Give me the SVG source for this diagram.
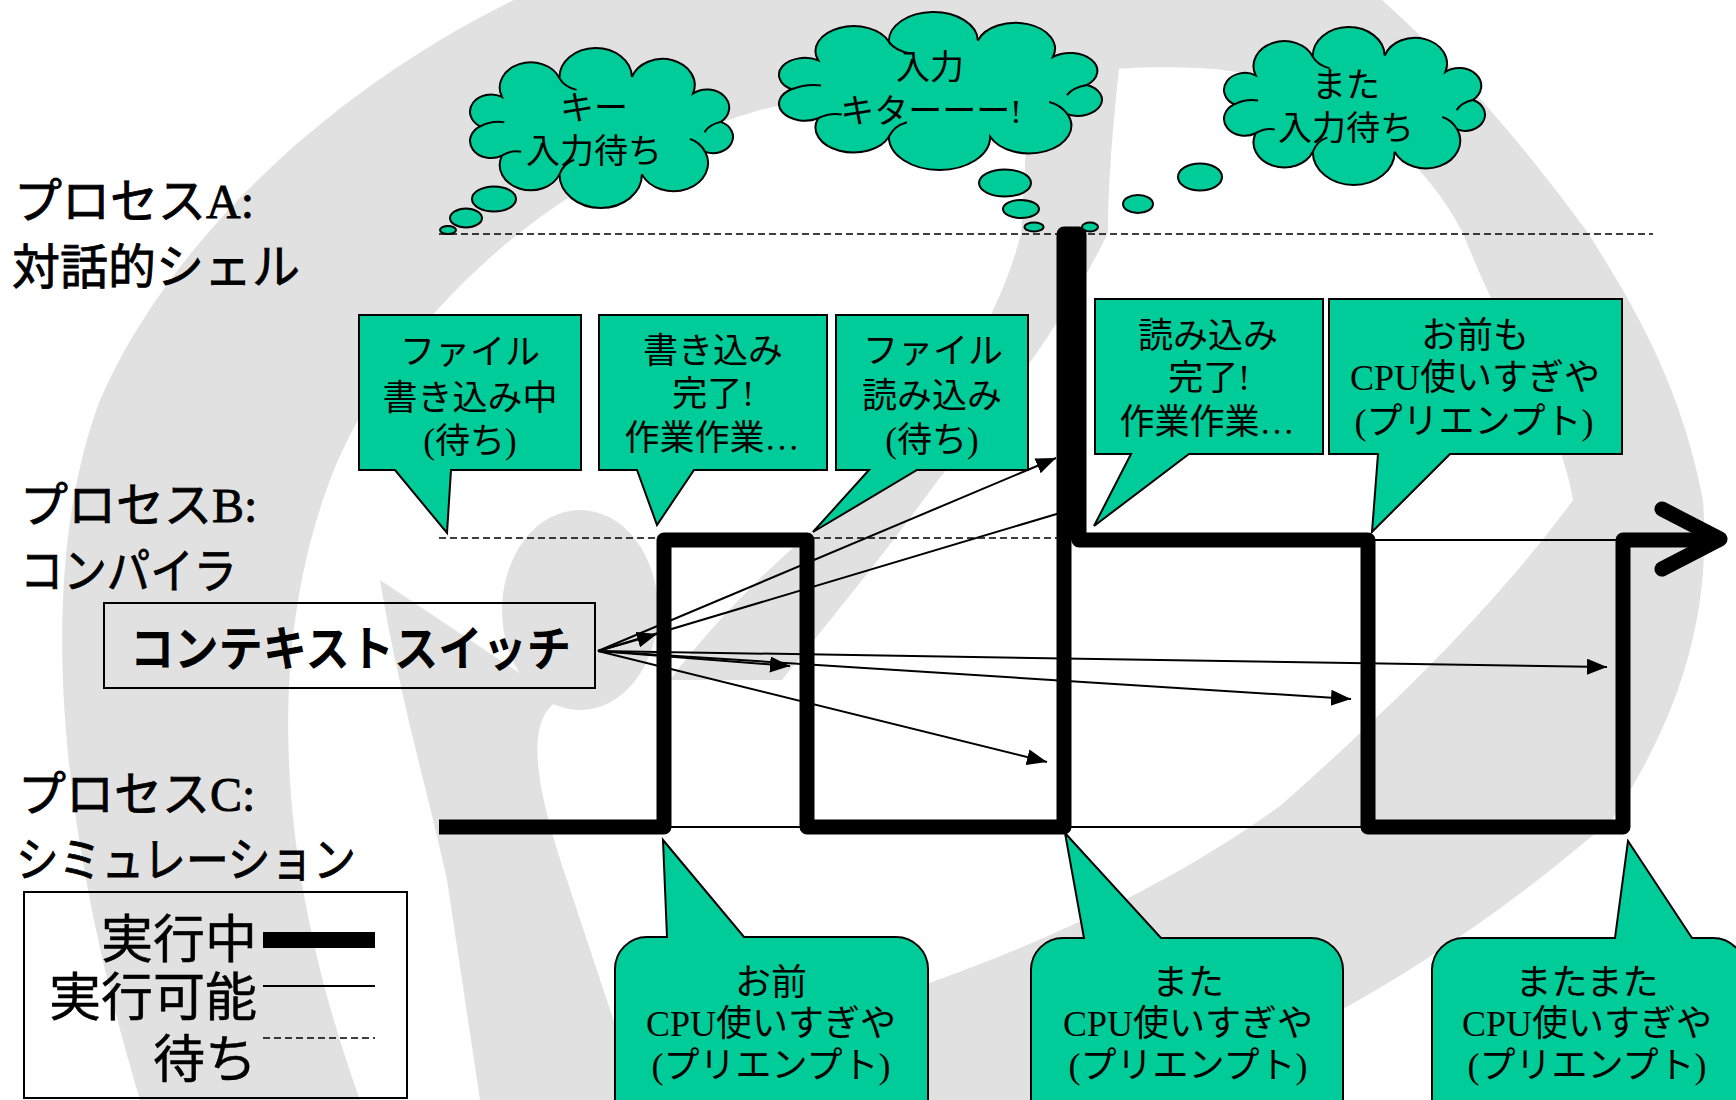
<svg xmlns="http://www.w3.org/2000/svg" width="1736" height="1100" viewBox="0 0 1736 1100">
  <style>
    .jp { font-family: "Liberation Serif", "Noto Sans CJK JP", serif; fill: #000; }
    .lbl { font-size: 48px; stroke: #000; stroke-width: 0.8; }
    .leg { font-size: 52px; text-anchor: end; stroke: #000; stroke-width: 0.5; }
    .ct { font-size: 34px; text-anchor: middle; dominant-baseline: central; }
    .bt { font-size: 35px; text-anchor: middle; dominant-baseline: central; }
    .rt { font-size: 36px; text-anchor: middle; dominant-baseline: central; }
    .sw { font-family: "Noto Sans CJK JP", sans-serif; font-weight: bold; font-size: 48px; }
    .call { fill: #00cc99; stroke: #000; stroke-width: 2; stroke-linejoin: miter; }
    .cl { fill: #00cc99; stroke: #000; stroke-width: 2; vector-effect: non-scaling-stroke; }
    .cli { fill: none; stroke: #000; stroke-width: 2; vector-effect: non-scaling-stroke; }
    .box { fill: none; stroke: #000; stroke-width: 2; }
    .wait { fill: none; stroke: #000; stroke-width: 1.5; stroke-dasharray: 7 4; }
    .ready { fill: none; stroke: #000; stroke-width: 2; }
    .run { fill: none; stroke: #000; stroke-width: 15; stroke-linejoin: round; }
    .sw-line { fill: none; stroke: #000; stroke-width: 2; }
    .sw-arrow { fill: none; stroke: #000; stroke-width: 2; marker-end: url(#ah); }
    .bg { fill: #e1e1e1; }
  </style>
  <defs>
    <marker id="ah" markerUnits="userSpaceOnUse" markerWidth="22" markerHeight="18" refX="20" refY="8" orient="auto">
      <path d="M0,0 L20,8 L0,16 Z" fill="#000"/>
    </marker>
    <!-- cloud outline: ten semicircular lobes on an ellipse, template box x 21.6..239.7, y 2.4..165.1 -->
    <g id="cloud">
      <path class="cl" d="M30,82 A1,1 0 0 1 48.1,52.2 A1,1 0 0 1 95.8,33.1 A1,1 0 0 1 155.9,31.8 A1,1 0 0 1 206.6,48.6 A1,1 0 0 1 229.6,77.5 A1,1 0 0 1 216.6,108 A1,1 0 0 1 164.2,130.9 A1,1 0 0 1 95.8,130.9 A1,1 0 0 1 48.1,111.8 A1,1 0 0 1 30,82 Z"/>
      <path class="cli" d="M30,82 Q40,76 50,78 M95.8,33.1 Q100,42 110,45 M229.6,77.5 Q220,80 216,88 M216.6,108 Q212,98 204,95 M95.8,130.9 Q99,120 108,116 M48.1,111.8 Q56,106 64,108"/>
    </g>
  </defs>

  <!-- background swirl -->
  <g id="swirl">
    <path class="bg" d="M140,1100 C50,800 40,560 100,400 C170,240 330,90 514,0 L1382,0 C1450,60 1520,140 1588,233 C1630,300 1680,380 1703,500 C1710,600 1690,700 1613,818 C1450,960 1300,1040 1150,1100 L900,1100 L880,1000 C1000,960 1150,900 1280,806 C1400,700 1500,600 1573,500 C1560,420 1500,330 1463,233 C1420,150 1330,75 1200,68 C1150,66 1120,68 1110,70 L1030,72 C940,80 850,90 760,110 C520,180 380,350 330,480 C270,640 270,850 360,1100 Z"/>
    <path class="bg" d="M1030,60 L1120,60 C1110,150 1108,200 1108,233 C1060,330 990,420 938,480 C880,560 830,620 782,680 L670,680 C730,600 800,540 871,480 C940,410 1000,320 1021,233 C1025,170 1028,110 1030,60 Z"/>
    <ellipse class="bg" cx="580" cy="610" rx="78" ry="100"/>
    <path class="bg" d="M380,580 C400,700 430,800 447,880 L480,1100 L640,1100 L567,880 C540,800 520,720 560,700 Z"/>
  </g>

  <!-- process labels -->
  <g id="label-a" class="jp lbl">
    <text x="14" y="218">プロセスA:</text>
    <text x="12" y="284">対話的シェル</text>
  </g>
  <g id="label-b" class="jp lbl">
    <text x="20" y="522">プロセスB:</text>
    <text x="20" y="588" textLength="217" lengthAdjust="spacingAndGlyphs">コンパイラ</text>
  </g>
  <g id="label-c" class="jp lbl">
    <text x="18" y="811">プロセスC:</text>
    <text x="16" y="877" textLength="340" lengthAdjust="spacingAndGlyphs">シミュレーション</text>
  </g>

  <!-- state lines, switch arrows and the running trace -->
  <g id="connectors">
    <line class="wait" x1="439" y1="234" x2="1653" y2="234"/>
    <line class="wait" x1="439" y1="538" x2="1064" y2="538"/>
    <line class="ready" x1="1368" y1="540" x2="1623" y2="540"/>
    <line class="ready" x1="664" y1="827" x2="1623" y2="827"/>

    <line class="sw-arrow" x1="598" y1="651" x2="657" y2="634"/>
    <line class="sw-arrow" x1="598" y1="651" x2="790" y2="666"/>
    <line class="sw-arrow" x1="598" y1="651" x2="1047" y2="762"/>
    <line class="sw-arrow" x1="598" y1="651" x2="1056" y2="458"/>
    <line class="sw-line" x1="598" y1="651" x2="1060" y2="513"/>
    <line class="sw-arrow" x1="598" y1="651" x2="1351" y2="699"/>
    <line class="sw-arrow" x1="598" y1="651" x2="1607" y2="667"/>

    <path class="run" d="M439,827 H664 V540 H807 V827 H1064 V234 H1079 V540 H1368 V827 H1623 V540 H1718"/>
    <path class="run" stroke-linecap="round" d="M1662,509 L1720,539 L1662,569"/>
  </g>

  <!-- context switch label -->
  <g id="context-switch">
    <rect class="box" x="104" y="603" width="491" height="85"/>
    <text class="sw" x="130" y="666" textLength="441" lengthAdjust="spacingAndGlyphs">コンテキストスイッチ</text>
  </g>

  <!-- thought clouds for process A -->
  <g id="cloud-key-wait">
    <use href="#cloud" transform="translate(443.95,45.64) scale(1.2059,0.9834)"/>
    <ellipse class="cl" cx="494" cy="199" rx="22" ry="12.5"/>
    <ellipse class="cl" cx="466" cy="218" rx="16" ry="9.5"/>
    <ellipse class="cl" cx="448" cy="230" rx="8" ry="4"/>
    <text class="jp ct" x="594" y="108">キー</text>
    <text class="jp ct" x="594" y="151">入力待ち</text>
  </g>
  <g id="cloud-input">
    <use href="#cloud" transform="translate(747,9.67) scale(1.481,0.9711)"/>
    <ellipse class="cl" cx="1005" cy="183" rx="26" ry="13.5"/>
    <ellipse class="cl" cx="1021" cy="209" rx="18" ry="9"/>
    <ellipse class="cl" cx="1034" cy="227" rx="9.5" ry="4.5"/>
    <text class="jp ct" x="930" y="67">入力</text>
    <text class="jp ct" x="931" y="111">キターーー!</text>
  </g>
  <g id="cloud-wait-again">
    <use href="#cloud" transform="translate(1198.15,24.67) scale(1.1967,0.9711)"/>
    <ellipse class="cl" cx="1200" cy="177" rx="22" ry="13.5"/>
    <ellipse class="cl" cx="1138" cy="204" rx="15" ry="9"/>
    <ellipse class="cl" cx="1090" cy="227" rx="8" ry="4.5"/>
    <text class="jp ct" x="1346" y="85">また</text>
    <text class="jp ct" x="1346" y="128">入力待ち</text>
  </g>

  <!-- callouts for process B -->
  <g id="note-write-wait">
    <path class="call" d="M359,315 H581 V470 H451 L447,533 L395,470 H359 Z"/>
    <text class="jp bt" x="470" y="352">ファイル</text>
    <text class="jp bt" x="470" y="398">書き込み中</text>
    <text class="jp bt" x="470" y="441">(待ち)</text>
  </g>
  <g id="note-write-done">
    <path class="call" d="M599,315 H827 V470 H694 L657,525 L637,470 H599 Z"/>
    <text class="jp bt" x="713" y="351">書き込み</text>
    <text class="jp bt" x="713" y="394">完了!</text>
    <text class="jp bt" x="712" y="438">作業作業…</text>
  </g>
  <g id="note-read-wait">
    <path class="call" d="M836,315 H1028 V470 H917 L813,532 L869,470 H836 Z"/>
    <text class="jp bt" x="933" y="351">ファイル</text>
    <text class="jp bt" x="932" y="396">読み込み</text>
    <text class="jp bt" x="932" y="440">(待ち)</text>
  </g>
  <g id="note-read-done">
    <path class="call" d="M1095,299 H1323 V454 H1189 L1094,526 L1131,454 H1095 Z"/>
    <text class="jp bt" x="1208" y="336">読み込み</text>
    <text class="jp bt" x="1209" y="378">完了!</text>
    <text class="jp bt" x="1207" y="422">作業作業…</text>
  </g>
  <g id="note-b-preempt">
    <path class="call" d="M1329,299 H1622 V454 H1450 L1372,532 L1378,454 H1329 Z"/>
    <text class="jp rt" x="1475" y="336">お前も</text>
    <text class="jp rt" x="1475" y="378">CPU使いすぎや</text>
    <text class="jp rt" x="1474" y="422">(プリエンプト)</text>
  </g>

  <!-- callouts for process C -->
  <g id="note-c-preempt-1">
    <path class="call" d="M647,937 H667 L663,840 L744,937 H896 A32,32 0 0 1 928,969 V1108 A32,32 0 0 1 896,1140 H647 A32,32 0 0 1 615,1108 V969 A32,32 0 0 1 647,937 Z"/>
    <text class="jp rt" x="771" y="983">お前</text>
    <text class="jp rt" x="771" y="1024">CPU使いすぎや</text>
    <text class="jp rt" x="771" y="1066">(プリエンプト)</text>
  </g>
  <g id="note-c-preempt-2">
    <path class="call" d="M1063,938 H1084 L1065,833 L1161,938 H1311 A32,32 0 0 1 1343,970 V1108 A32,32 0 0 1 1311,1140 H1063 A32,32 0 0 1 1031,1108 V970 A32,32 0 0 1 1063,938 Z"/>
    <text class="jp rt" x="1188" y="983">また</text>
    <text class="jp rt" x="1188" y="1024">CPU使いすぎや</text>
    <text class="jp rt" x="1188" y="1066">(プリエンプト)</text>
  </g>
  <g id="note-c-preempt-3">
    <path class="call" d="M1464,938 H1615 L1628,841 L1692,938 H1713 A32,32 0 0 1 1745,970 V1108 A32,32 0 0 1 1713,1140 H1464 A32,32 0 0 1 1432,1108 V970 A32,32 0 0 1 1464,938 Z"/>
    <text class="jp rt" x="1587" y="983">またまた</text>
    <text class="jp rt" x="1587" y="1024">CPU使いすぎや</text>
    <text class="jp rt" x="1587" y="1066">(プリエンプト)</text>
  </g>

  <!-- legend -->
  <g id="legend">
    <rect class="box" x="24" y="892" width="383" height="206"/>
    <text class="jp leg" x="257" y="958">実行中</text>
    <text class="jp leg" x="257" y="1016">実行可能</text>
    <text class="jp leg" x="257" y="1078">待ち</text>
    <line x1="263" y1="940" x2="375" y2="940" stroke="#000" stroke-width="16"/>
    <line class="ready" x1="263" y1="986" x2="375" y2="986"/>
    <line class="wait" x1="263" y1="1038" x2="375" y2="1038"/>
  </g>
</svg>
